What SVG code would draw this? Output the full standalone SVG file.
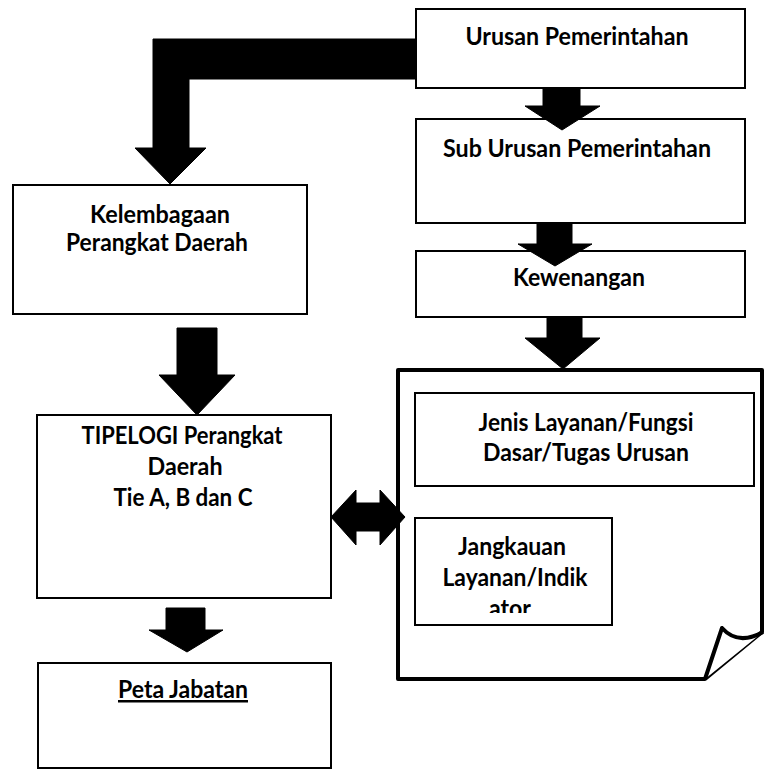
<svg xmlns="http://www.w3.org/2000/svg" width="765" height="771" viewBox="0 0 765 771">
<style>
.box{fill:#fff;stroke:#000;stroke-width:2}
.big{fill:#fff;stroke:#000;stroke-width:4;stroke-linejoin:round}
.arr{fill:#000;stroke:#000;stroke-width:1}
text{font-family:Lato,"Open Sans","Liberation Sans",sans-serif;font-size:25px;font-weight:bold;fill:#000;text-anchor:middle}
</style>
<defs>
<clipPath id="clipJ"><rect x="415" y="518" width="197" height="95"/></clipPath>
</defs>
<rect width="765" height="771" fill="#fff"/>
<g id="n-big">
<path class="big" d="M398,370 H762 V632 L705,679 H398 Z"/>
<path class="big" d="M705,679 L722,628 Q738,646 763,632"/>
</g>
<g id="n-urusan">
<rect class="box" x="416" y="9" width="329" height="79"/>
<text x="577" y="45" textLength="223" lengthAdjust="spacingAndGlyphs">Urusan Pemerintahan</text>
</g>
<g id="n-sub">
<rect class="box" x="416" y="119" width="329" height="104"/>
<text x="577" y="157" textLength="268" lengthAdjust="spacingAndGlyphs">Sub Urusan Pemerintahan</text>
</g>
<g id="n-kew">
<rect class="box" x="416" y="251" width="329" height="66"/>
<text x="579" y="286" textLength="132" lengthAdjust="spacingAndGlyphs">Kewenangan</text>
</g>
<g id="n-jenis">
<rect class="box" x="415" y="393" width="339" height="93"/>
<text x="586" y="431" textLength="215" lengthAdjust="spacingAndGlyphs">Jenis Layanan/Fungsi</text>
<text x="586" y="461" textLength="206" lengthAdjust="spacingAndGlyphs">Dasar/Tugas Urusan</text>
</g>
<g id="n-jangkauan">
<rect class="box" x="415" y="518" width="197" height="107"/>
<text x="512" y="555" textLength="108" lengthAdjust="spacingAndGlyphs">Jangkauan</text>
<text x="515" y="586" textLength="145" lengthAdjust="spacingAndGlyphs">Layanan/Indik</text>
<text x="510" y="617" textLength="42" lengthAdjust="spacingAndGlyphs" clip-path="url(#clipJ)">ator</text>
</g>
<g id="n-kelembagaan">
<rect class="box" x="13" y="185" width="294" height="129"/>
<text x="160" y="223" textLength="140" lengthAdjust="spacingAndGlyphs">Kelembagaan</text>
<text x="157" y="251" textLength="182" lengthAdjust="spacingAndGlyphs">Perangkat Daerah</text>
</g>
<g id="n-tipelogi">
<rect class="box" x="37" y="415" width="294" height="183"/>
<text x="182" y="444" textLength="201" lengthAdjust="spacingAndGlyphs">TIPELOGI Perangkat</text>
<text x="185" y="475" textLength="75" lengthAdjust="spacingAndGlyphs">Daerah</text>
<text x="183" y="506" textLength="139" lengthAdjust="spacingAndGlyphs">Tie A, B dan C</text>
</g>
<g id="n-peta">
<rect class="box" x="38" y="663" width="293" height="105"/>
<text x="183" y="698" textLength="130" lengthAdjust="spacingAndGlyphs" text-decoration="underline">Peta Jabatan</text>
</g>
<g id="connectors">
<path class="arr" d="M416,39 H153 V148 H135 L170,184 L206,148 H189 V79 H416 Z"/>
<path class="arr" d="M543,88 H580 V106 H600 L562,130 L525,106 H543 Z"/>
<path class="arr" d="M537,223 H572 V244 H592 L555,266 L518,244 H537 Z"/>
<path class="arr" d="M547,317 H582 V338 H600 L563,369 L525,338 H547 Z"/>
<path class="arr" d="M177,328 H217 V375 H235 L197,415 L159,375 H177 Z"/>
<path class="arr" d="M166,608 H205 V630 H223 L187,652 L149,630 H166 Z"/>
<path class="arr" d="M331,517 L356,490 V503 H380 V490 L405,517 L380,545 V531 H356 V545 Z"/>
</g>
</svg>
